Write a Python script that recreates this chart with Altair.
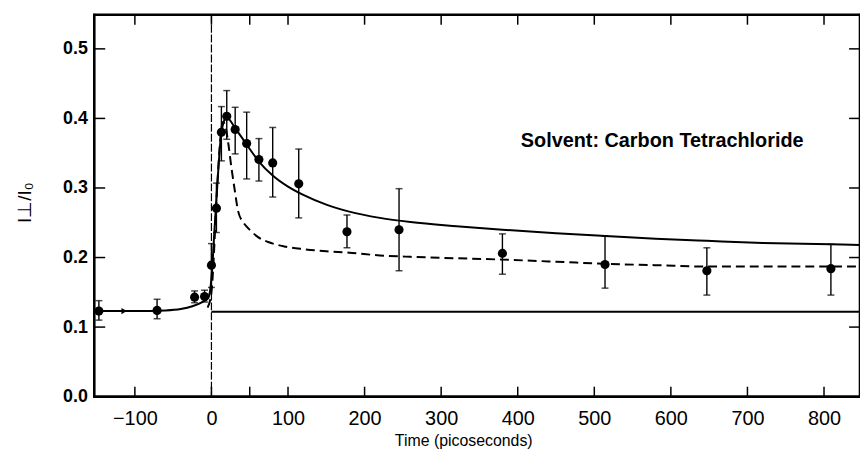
import altair as alt
import pandas as pd

# ---- measured data points (time in ps, I_perp/I_0) ----
time_ps = [-147, -71, -22, -9, 0, 6.5, 13, 20, 31, 46, 62, 80, 114, 177, 245, 380, 514, 647, 809]
ratio = [0.123, 0.124, 0.143, 0.144, 0.189, 0.271, 0.380, 0.403, 0.384, 0.364, 0.341, 0.336,
         0.306, 0.237, 0.240, 0.206, 0.190, 0.181, 0.184]
ratio_lo = [0.110, 0.112, 0.135, 0.136, 0.157, 0.236, 0.339, 0.370, 0.349, 0.313, 0.310, 0.287,
            0.257, 0.214, 0.181, 0.176, 0.156, 0.146, 0.146]
ratio_hi = [0.138, 0.140, 0.152, 0.153, 0.220, 0.307, 0.417, 0.440, 0.416, 0.409, 0.371, 0.387,
            0.356, 0.261, 0.299, 0.234, 0.231, 0.214, 0.219]

# ---- solid theory curve ----
solid_t = [-147, -100, -60, -40, -25, -12, -4, 0, 4, 8, 12, 16, 20, 25, 31, 40, 50, 62, 80, 100,
           120, 150, 180, 220, 260, 320, 380, 450, 514, 580, 647, 720, 809, 847]
solid_v = [0.123, 0.123, 0.124, 0.126, 0.130, 0.136, 0.142, 0.170, 0.240, 0.310, 0.370, 0.395,
           0.402, 0.396, 0.386, 0.372, 0.356, 0.338, 0.318, 0.302, 0.290, 0.276, 0.266, 0.257,
           0.251, 0.245, 0.240, 0.235, 0.231, 0.227, 0.224, 0.221, 0.219, 0.218]

# ---- dashed theory curve ----
dash_t = [-5, 0, 3, 6, 9, 12, 15, 18, 22, 26, 30, 35, 42, 50, 60, 75, 95, 120, 150, 180, 220,
          260, 320, 380, 450, 514, 580, 647, 720, 809, 847]
dash_v = [0.128, 0.150, 0.200, 0.270, 0.330, 0.375, 0.395, 0.390, 0.364, 0.330, 0.300, 0.266,
          0.250, 0.240, 0.230, 0.222, 0.216, 0.212, 0.209, 0.207, 0.203, 0.201, 0.199, 0.197,
          0.194, 0.191, 0.189, 0.187, 0.187, 0.187, 0.187]

baseline_level = [0.122]
baseline_from = [0]
baseline_to = [847]
zero_time = [0]

arrow_t = [-114]
arrow_v = [0.123]

note_text = ["Solvent: Carbon Tetrachloride"]
note_t = [404]
note_v = [0.359]

x_label_values = [-100, 0, 100, 200, 300, 400, 500, 600, 700, 800]
x_tick_values = [-100, 0, 50, 100, 200, 300, 400, 500, 600, 700, 800]
y_label_values = [0.0, 0.1, 0.2, 0.3, 0.4, 0.5]
y_tick_values = [0.1, 0.2, 0.3, 0.4, 0.5]

W, H = 772, 385
FONT = "Liberation Sans"

xs = alt.Scale(domain=[-153, 847], nice=False, zero=False)
ys = alt.Scale(domain=[0, 0.549], nice=False, zero=False)

xaxis = alt.Axis(values=x_label_values, format="d", ticks=False, domain=False, grid=False,
                 labelFont=FONT, labelFontSize=20, labelColor="black", labelPadding=12,
                 labelFlush=False, labelOverlap=False,
                 title="Time (picoseconds)", titleFont=FONT, titleFontSize=16,
                 titleFontWeight="normal", titleColor="black", titleX=372, titleY=44,
                 titleBaseline="middle", titleAlign="center")
yaxis = alt.Axis(values=y_label_values, format=".1f", ticks=False, domain=False, grid=False,
                 labelFont=FONT, labelFontSize=18, labelFontWeight="bold", labelColor="black",
                 labelPadding=7, labelFlush=False, labelOverlap=False,
                 title="I⊥/I₀", titleFont=FONT, titleFontSize=19, titleFontWeight="normal",
                 titleColor="black", titleX=-70, titleY=189, titleAngle=270,
                 titleBaseline="middle", titleAlign="center")


def X(f):
    return alt.X(f, type="quantitative", scale=xs, axis=xaxis)


def Y(f):
    return alt.Y(f, type="quantitative", scale=ys, axis=yaxis)


pts = pd.DataFrame({"t": time_ps, "v": ratio, "lo": ratio_lo, "hi": ratio_hi})
sol = pd.DataFrame({"t": solid_t, "v": solid_v})
das = pd.DataFrame({"t": dash_t, "v": dash_v})
base = pd.DataFrame({"t": baseline_from, "t2": baseline_to, "v": baseline_level})
zero = pd.DataFrame({"t": zero_time})
arrow = pd.DataFrame({"t": arrow_t, "v": arrow_v})
note = pd.DataFrame({"t": note_t, "v": note_v, "s": note_text})
xt = pd.DataFrame({"t": x_tick_values})
yt = pd.DataFrame({"v": y_tick_values})

zero_line = alt.Chart(zero).mark_rule(color="black", strokeWidth=1.2, strokeDash=[8, 2]).encode(
    x=X("t"), y=alt.value(0), y2=alt.value(H))
base_line = alt.Chart(base).mark_rule(color="black", strokeWidth=2).encode(
    x=X("t"), x2="t2", y=Y("v"))
solid_line = alt.Chart(sol).mark_line(color="black", strokeWidth=2, interpolate="monotone").encode(
    x=X("t"), y=Y("v"))
dash_line = alt.Chart(das).mark_line(color="black", strokeWidth=2, strokeDash=[9, 5],
                                     interpolate="monotone").encode(x=X("t"), y=Y("v"))
err = alt.Chart(pts).mark_rule(color="black", strokeWidth=1.4).encode(x=X("t"), y=Y("lo"), y2="hi")
cap_lo = alt.Chart(pts).mark_tick(color="black", orient="horizontal", size=7, thickness=1.5).encode(
    x=X("t"), y=Y("lo"))
cap_hi = alt.Chart(pts).mark_tick(color="black", orient="horizontal", size=7, thickness=1.5).encode(
    x=X("t"), y=Y("hi"))
dots = alt.Chart(pts).mark_circle(color="black", size=85, opacity=1).encode(x=X("t"), y=Y("v"))
arrow_mk = alt.Chart(arrow).mark_point(shape="triangle-right", filled=True, color="black",
                                       size=40, opacity=1).encode(x=X("t"), y=Y("v"))
note_mk = alt.Chart(note).mark_text(align="left", baseline="alphabetic", font=FONT, fontSize=20,
                                    fontWeight="bold", color="black").encode(
    x=X("t"), y=Y("v"), text="s")

tick_b = alt.Chart(xt).mark_rule(color="black", strokeWidth=1.5).encode(
    x=X("t"), y=alt.value(H), y2=alt.value(H - 10))
tick_t = alt.Chart(xt).mark_rule(color="black", strokeWidth=1.5).encode(
    x=X("t"), y=alt.value(0), y2=alt.value(10))
tick_l = alt.Chart(yt).mark_rule(color="black", strokeWidth=1.5).encode(
    y=Y("v"), x=alt.value(0), x2=alt.value(11))
tick_r = alt.Chart(yt).mark_rule(color="black", strokeWidth=1.5).encode(
    y=Y("v"), x=alt.value(W), x2=alt.value(W - 11))

# heavy plot frame (styling only)
frame_style = dict(color="black", strokeWidth=2.6)
frame_l = alt.Chart(zero).mark_rule(**frame_style).encode(
    x=alt.value(0), y=alt.value(-1), y2=alt.value(H + 1))
frame_r = alt.Chart(zero).mark_rule(**frame_style).encode(
    x=alt.value(W), y=alt.value(-1), y2=alt.value(H + 1))
frame_t = alt.Chart(zero).mark_rule(**frame_style).encode(
    y=alt.value(0), x=alt.value(-1), x2=alt.value(W + 1))
frame_b = alt.Chart(zero).mark_rule(**frame_style).encode(
    y=alt.value(H), x=alt.value(-1), x2=alt.value(W + 1))

chart = alt.layer(
    zero_line, base_line, solid_line, dash_line, err, cap_lo, cap_hi, dots, arrow_mk, note_mk,
    tick_b, tick_t, tick_l, tick_r, frame_l, frame_r, frame_t, frame_b
).properties(
    width=W, height=H,
    padding={"left": 87, "top": 5, "right": 0, "bottom": 58},
    autosize=alt.AutoSizeParams(type="none"),
    background="white",
).configure(font=FONT).configure_view(stroke=None)

chart.save("out.html", embed_options={"renderer": "svg", "actions": False})
